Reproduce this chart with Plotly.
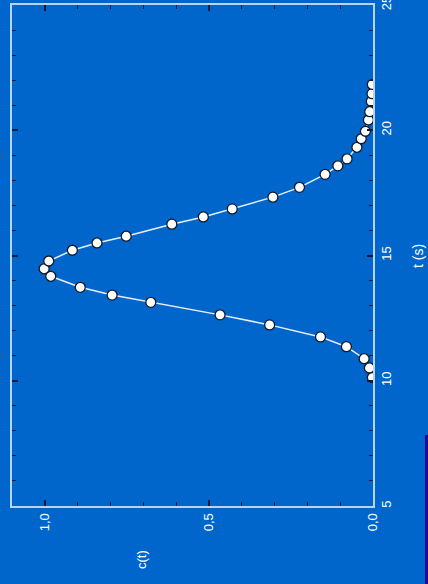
import plotly.graph_objects as go

# Sampled concentration curve c(t) against time t (seconds)
t_values = [10.13, 10.51, 10.88, 11.36, 11.75, 12.23, 12.63, 13.13, 13.42, 13.73,
            14.17, 14.47, 14.78, 15.21, 15.50, 15.77, 16.25, 16.54, 16.86, 17.33,
            17.72, 18.24, 18.58, 18.86, 19.32, 19.66, 19.96, 20.41, 20.74, 21.15,
            21.46, 21.83]
c_values = [0.002, 0.011, 0.027, 0.081, 0.160, 0.315, 0.466, 0.677, 0.795, 0.892,
            0.982, 1.002, 0.988, 0.916, 0.841, 0.752, 0.613, 0.517, 0.429, 0.305,
            0.224, 0.146, 0.107, 0.079, 0.049, 0.036, 0.023, 0.014, 0.010, 0.005,
            0.003, 0.002]

c_ticks = [0.0, 0.5, 1.0]
t_ticks = [5, 10, 15, 20, 25]

BG = "#0066CC"
AXIS_LINE = "#B8D4F2"
TICK = "#0A1A3A"
FONT = "Arial, Liberation Sans, sans-serif"

fig = go.Figure()
fig.add_trace(go.Scatter(
    x=c_values, y=t_values, mode="lines+markers",
    line=dict(color="#E8F0FF", width=1.5),
    marker=dict(size=10, color="white", line=dict(color="#101828", width=1.3)),
    showlegend=False,
))

fig.update_layout(
    width=428, height=584,
    margin=dict(l=12, r=55, t=5, b=78, autoexpand=False),
    paper_bgcolor=BG, plot_bgcolor=BG,
    separators=",.",
    font=dict(family=FONT, color="white", size=13),
    xaxis=dict(
        range=[1.1, 0], tickvals=c_ticks, tickformat=".1f", tickangle=-90,
        ticks="inside", ticklen=6, tickwidth=1.5, tickcolor=TICK,
        minor=dict(dtick=0.1, ticks="inside", ticklen=4, tickwidth=1.2, tickcolor=TICK),
        showline=True, linecolor=AXIS_LINE, linewidth=2, mirror="allticks",
        showgrid=False, zeroline=False, ticklabeloverflow="allow", automargin=False,
        tickfont=dict(size=13, color="white"),
    ),
    yaxis=dict(
        range=[5, 25], tickvals=t_ticks, side="right", tickangle=-90,
        ticks="inside", ticklen=6, tickwidth=1.5, tickcolor=TICK,
        minor=dict(dtick=1, ticks="inside", ticklen=4, tickwidth=1.2, tickcolor=TICK),
        showline=True, linecolor=AXIS_LINE, linewidth=2, mirror="allticks",
        showgrid=False, zeroline=False, ticklabeloverflow="allow", automargin=False,
        tickfont=dict(size=13, color="white"),
    ),
    annotations=[
        dict(text="t (s)", xref="paper", yref="paper", x=1.1247, y=0.499,
             xanchor="center", yanchor="middle",
             textangle=-90, showarrow=False, font=dict(size=14, color="white")),
        dict(text="c(t)", xref="paper", yref="paper", x=0.357, y=-0.106,
             xanchor="center", yanchor="middle",
             textangle=-90, showarrow=False, font=dict(size=13, color="white")),
    ],
    shapes=[
        dict(type="rect", xref="paper", yref="paper",
             x0=(425 - 12) / 361, x1=(430 - 12) / 361,
             y0=(506 - 584) / 501.3 - 0.01, y1=(506 - 435) / 501.3,
             fillcolor="#2A0596", line=dict(width=0), layer="below"),
    ],
)

fig.write_html("out.html")
